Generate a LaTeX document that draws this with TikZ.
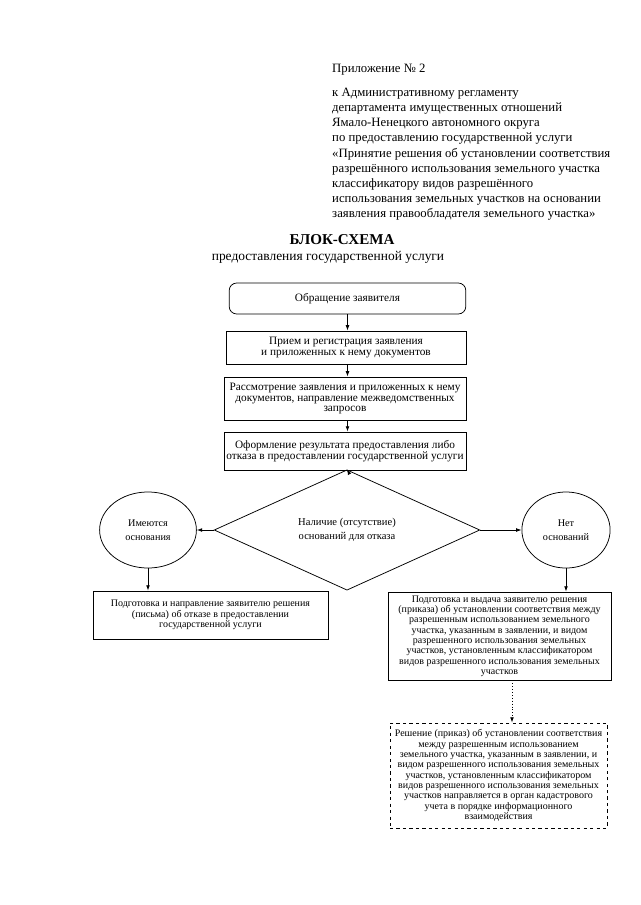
\documentclass[tikz,border=0pt]{standalone}
\usepackage{fontspec}
\setmainfont{Liberation Serif}
\usetikzlibrary{shapes.geometric,arrows.meta}
\begin{document}
\begin{tikzpicture}[x=0.9297pt,y=-0.9297pt,
  every node/.style={inner sep=0pt},
  hdr/.style={align=left,font=\fontsize{11.85}{14.04}\selectfont},
  box/.style={draw,line width=0.7pt,align=center,font=\fontsize{10.5}{10.2}\selectfont},
  sbox/.style={draw,line width=0.7pt,align=center,font=\fontsize{9.3}{9.6}\selectfont},
  oval/.style={draw,ellipse,line width=0.7pt,align=center,font=\fontsize{9.5}{13}\selectfont},
  arr/.style={-{Latex[length=5pt,width=3.5pt]},line width=0.7pt}]
\useasboundingbox (0,0) rectangle (640,905);
% header
\node[hdr,anchor=north west] (app) at (332,64) {Приложение № 2};
\node[hdr,anchor=north west] (reg) at (332,88) {к Административному регламенту\\
департамента имущественных отношений\\
Ямало-Ненецкого автономного округа\\
по предоставлению государственной услуги\\
«Принятие решения об установлении соответствия\\
разрешённого использования земельного участка\\
классификатору видов разрешённого\\
использования земельных участков на основании\\
заявления правообладателя земельного участка»};
\node[font=\fontsize{14}{15}\selectfont\bfseries] (title) at (342,240) {БЛОК-СХЕМА};
\node[font=\fontsize{12.5}{14}\selectfont] (sub) at (328,257) {предоставления государственной услуги};
% flow
\node[box,rounded corners=7pt,minimum width=220pt,minimum height=28.8pt] (b1) at (347.5,298.5) {Обращение заявителя};
\node[box,minimum width=223pt,minimum height=30.7pt] (b2) at (346,347.5) {Прием и регистрация заявления\\и приложенных к нему документов};
\node[box,minimum width=225pt,minimum height=40pt] (b3) at (345,398.5) {Рассмотрение заявления и приложенных к нему\\документов, направление межведомственных\\запросов};
\node[box,minimum width=225pt,minimum height=35.3pt] (b4) at (345,451) {Оформление результата предоставления либо\\отказа в предоставлении государственной услуги};
\node[draw,diamond,line width=0.7pt,minimum width=247pt,minimum height=83.7pt,align=center,font=\fontsize{9.8}{12.5}\selectfont] (d) at (347,530) {Наличие (отсутствие)\\оснований для отказа};
\node[oval,minimum width=90pt,minimum height=70.7pt] (le) at (148,530) {Имеются\\основания};
\node[oval,minimum width=82pt,minimum height=70.7pt] (re) at (566,530) {Нет\\оснований};
\node[sbox,minimum width=218.5pt,minimum height=44.6pt] (lb) at (210.5,615) {Подготовка и направление заявителю решения\\(письма) об отказе в предоставлении\\государственной услуги};
\node[sbox,minimum width=207.3pt,minimum height=81.8pt] (rb) at (499.5,636) {Подготовка и выдача заявителю решения\\(приказа) об установлении соответствия между\\разрешенным использованием земельного\\участка, указанным в заявлении, и видом\\разрешенного использования земельных\\участков, установленным классификатором\\видов разрешенного использования земельных\\участков};
\node[sbox,dashed,minimum width=201.7pt,minimum height=97.6pt] (db) at (498.5,775.5) {Решение (приказ) об установлении соответствия\\между разрешенным использованием\\земельного участка, указанным в заявлении, и\\видом разрешенного использования земельных\\участков, установленным классификатором\\видов разрешенного использования земельных\\участков направляется в орган кадастрового\\учета в порядке информационного\\взаимодействия};
\coordinate (dt) at (512,700);
% connectors
\draw[arr] (b1.south) -- (b1.south |- b2.north);
\draw[arr] (b1.south |- b2.south) -- (b1.south |- b3.north);
\draw[arr] (b1.south |- b3.south) -- (b1.south |- b4.north);
\draw[arr] (b1.south |- b4.south) -- (d.north);
\draw[arr] (d.west) -- (d.west -| le.east);
\draw[arr] (d.east) -- (d.east -| re.west);
\draw[arr] (le.south) -- (le.south |- lb.north);
\draw[arr] (re.south) -- (re.south |- rb.north);
\draw[arr,dotted] (rb.south -| dt) -- (db.north -| dt);
\end{tikzpicture}
\end{document}
